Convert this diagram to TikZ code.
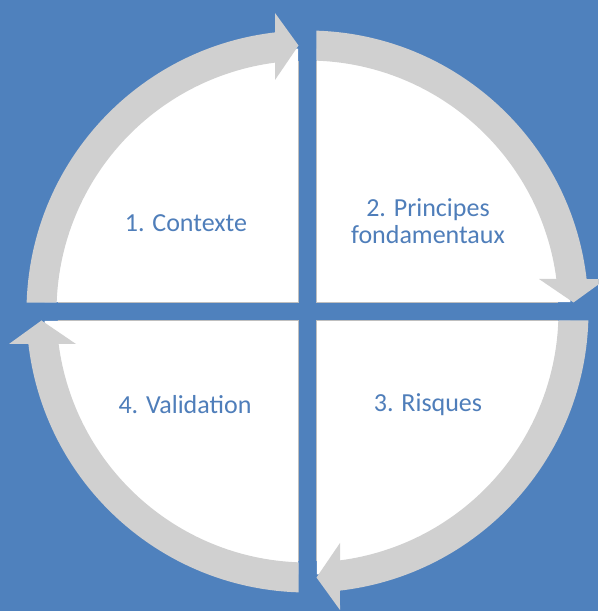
\documentclass[tikz,border=0pt]{standalone}
\usepackage{fontspec}
\setmainfont{Carlito}
\definecolor{bgblue}{HTML}{4F81BD}
\definecolor{bandgray}{HTML}{D0D0D0}
\definecolor{txtblue}{HTML}{4F7EBA}
\tikzset{
  qwhite/.style={fill=white},
  gapline/.style={draw=gray!50, line width=0.8pt},
  band/.style={fill=bandgray},
  lbl/.style={text=txtblue, font=\fontsize{26}{27}\selectfont, align=center, inner sep=0pt}
}
\newcommand{\quadshape}{%
  \fill[qwhite] (-9pt,9pt) -- (92.02:263pt) arc[start angle=92.02, end angle=177.98, radius=263pt] -- cycle;
  \draw[gapline] (-9pt,250pt) -- (-9pt,9pt) -- (-250pt,9pt);
  \fill[band] (178.165:281pt) arc[start angle=178.165, end angle=96.64, radius=281pt]
     -- (-32.5pt,298.5pt) -- (-9pt,266pt) -- (-32.5pt,231.5pt)
     -- (97.44:251pt) arc[start angle=97.44, end angle=177.945, radius=251pt] -- cycle;
}
\begin{document}
\begin{tikzpicture}[x=1pt,y=1pt]
\fill[bgblue] (0,0) rectangle (598,611);
\useasboundingbox (0,0) rectangle (598,611);
\coordinate (c) at (307.5,299.5);
\begin{scope}[shift={(c)}]
  \quadshape
\end{scope}
\begin{scope}[shift={(c)}, rotate=-90]
  \quadshape
\end{scope}
\begin{scope}[shift={(c)}, rotate=-180]
  \quadshape
\end{scope}
\begin{scope}[shift={(c)}, rotate=-270]
  \quadshape
\end{scope}
\node[lbl] (t1) at (186,388) {1. Contexte};
\node[lbl] (t2) at (428,390) {2. Principes\\fondamentaux};
\node[lbl] (t3) at (428,206) {3. Risques};
\node[lbl] (t4) at (185,206) {4. Validation};
\end{tikzpicture}
\end{document}
